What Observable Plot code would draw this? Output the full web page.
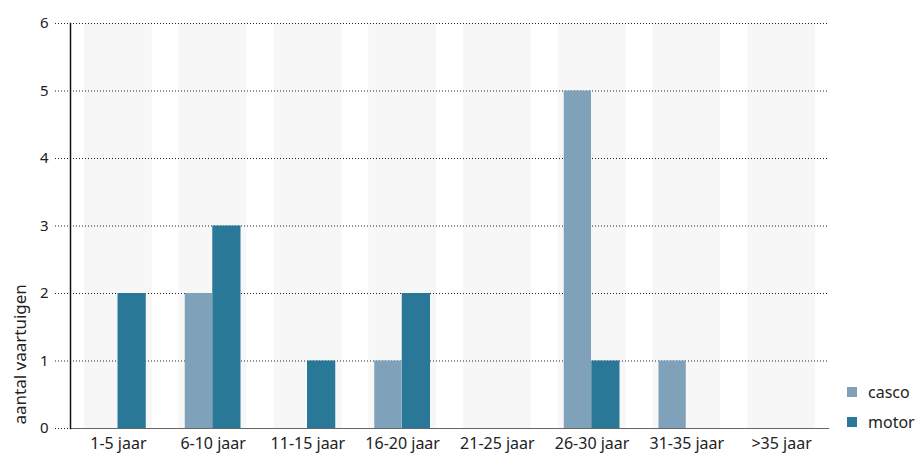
<!DOCTYPE html>
<html>
<head>
<meta charset="utf-8">
<script src="https://cdn.jsdelivr.net/npm/d3@7"></script>
<script src="https://cdn.jsdelivr.net/npm/@observablehq/plot@0.6"></script>
<style>
  html, body { margin: 0; padding: 0; background: #fff; }
  #wrap { position: relative; width: 917px; height: 458px; font-family: "Noto Sans", sans-serif; }
  #legend { position: absolute; left: 847px; top: 377px; font-size: 16px; color: #222; }
  #legend div { display: flex; align-items: center; height: 30px; }
  #legend span.sw { display: inline-block; width: 10px; height: 10px; margin-right: 11px; }
</style>
</head>
<body>
<div id="wrap"><div id="chart"></div><div id="legend"></div></div>
<script>
const categories = ["1-5 jaar", "6-10 jaar", "11-15 jaar", "16-20 jaar", "21-25 jaar", "26-30 jaar", "31-35 jaar", ">35 jaar"];
const casco = [0, 2, 0, 1, 0, 5, 1, 0];
const motor = [2, 3, 1, 2, 0, 1, 0, 0];
const seriesNames = ["casco", "motor"];
const seriesColors = ["#7fa1ba", "#2a7898"];
const yTicks = [0, 1, 2, 3, 4, 5, 6];

const cascoData = categories.map((c, i) => ({cat: c, value: casco[i]}));
const motorData = categories.map((c, i) => ({cat: c, value: motor[i]}));

const chart = Plot.plot({
  width: 917,
  height: 458,
  marginLeft: 70,
  marginRight: 88,
  marginTop: 23,
  marginBottom: 30,
  style: {fontFamily: "Noto Sans, sans-serif", fontSize: "16px", color: "#222"},
  x: {domain: categories, paddingInner: 0.285, paddingOuter: 0.148, round: false, label: null},
  y: {domain: [0, 6], label: null},
  marks: [
    Plot.barY(categories, {x: d => d, y1: 0, y2: 6, fill: "#f7f7f7"}),
    Plot.ruleY(yTicks, {y: d => d, stroke: "#222", strokeDasharray: "1,2", strokeWidth: 1, insetLeft: -15}),
    Plot.barY(cascoData, {x: "cat", y: "value", fill: seriesColors[0], insetLeft: 6, insetRight: 34.5}),
    Plot.barY(motorData, {x: "cat", y: "value", fill: seriesColors[1], insetLeft: 33.5, insetRight: 6}),
    Plot.ruleY([0], {stroke: "#666", strokeWidth: 1.2}),
    Plot.frame({anchor: "left", stroke: "#111", strokeWidth: 1.5}),
    Plot.axisY({ticks: yTicks, tickSize: 0, tickPadding: 22, tickFormat: d3.format("d"), fontSize: 15, label: null}),
    Plot.axisX({tickSize: 0, tickPadding: 9, fontSize: 16, label: null}),
    Plot.text(["aantal vaartuigen"], {frameAnchor: "bottom-left", text: d => d, rotate: -90, textAnchor: "start", lineAnchor: "middle", dx: -50, dy: -4, fontSize: 17, fill: "#222"})
  ]
});
document.getElementById("chart").appendChild(chart);

const legend = document.getElementById("legend");
seriesNames.forEach((n, i) => {
  const row = document.createElement("div");
  row.innerHTML = `<span class="sw" style="background:${seriesColors[i]}"></span>${n}`;
  legend.appendChild(row);
});
</script>
</body>
</html>
